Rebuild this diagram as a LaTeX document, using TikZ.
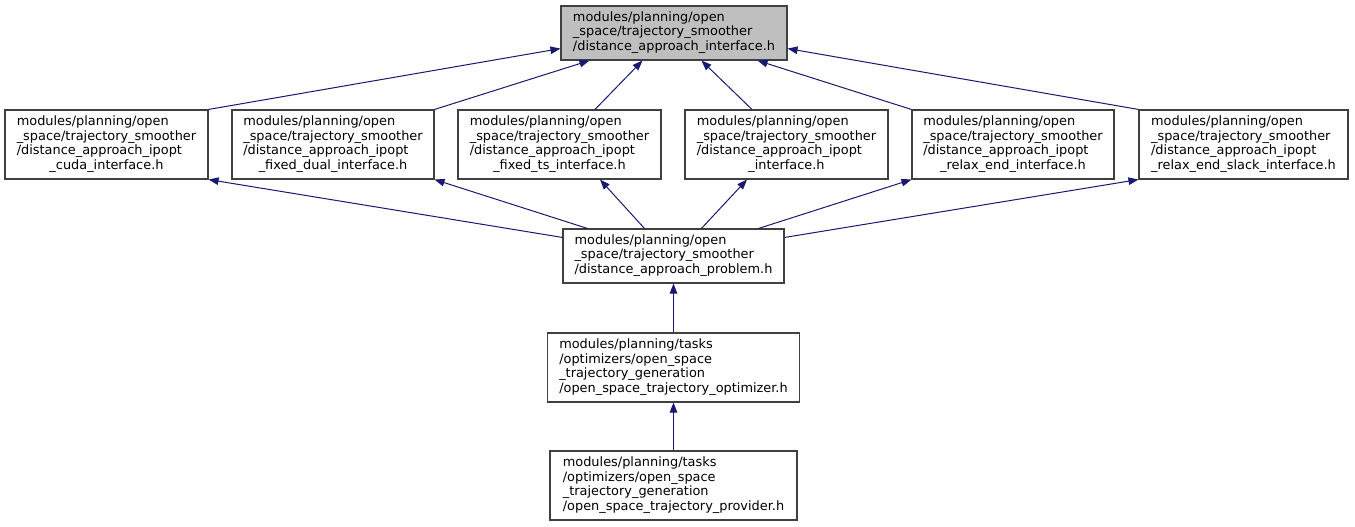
\documentclass[tikz,border=0pt]{standalone}
\usepackage{fontspec}
\setmainfont{DejaVu Sans}
\usetikzlibrary{arrows.meta}
\newcommand{\dxlines}[2]{\fontsize{12.9}{14.7}\selectfont\begin{tabular}{@{}l@{}}#1\\\multicolumn{1}{@{}c@{}}{#2}\end{tabular}}
\definecolor{edgeblue}{HTML}{191970}
\definecolor{boxgray}{HTML}{BFBFBF}
\definecolor{bordergray}{HTML}{404040}
\begin{document}
\begin{tikzpicture}[x=1pt,y=-1pt,
  box/.style={draw=bordergray,line width=1.1pt,inner sep=0pt,fill=white,minimum height=69pt},
  box3/.style={box,minimum height=54pt},
  edge/.style={draw=edgeblue,line width=1pt,{Triangle[length=10pt,width=7.5pt]}-}]
\useasboundingbox[fill=white] (0,0) rectangle (1355,527);

\node[box3,fill=boxgray,minimum width=226pt] (top) at (674,33)
  {\dxlines{modules/planning/open\\\_space/trajectory\_smoother}{/distance\_approach\_interface.h}};

\node[box,minimum width=203pt] (cuda) at (106.5,144.5)
  {\dxlines{modules/planning/open\\\_space/trajectory\_smoother\\/distance\_approach\_ipopt}{\_cuda\_interface.h}};
\node[box,minimum width=202pt] (fdual) at (333,144.5)
  {\dxlines{modules/planning/open\\\_space/trajectory\_smoother\\/distance\_approach\_ipopt}{\_fixed\_dual\_interface.h}};
\node[box,minimum width=203pt] (fts) at (559.5,144.5)
  {\dxlines{modules/planning/open\\\_space/trajectory\_smoother\\/distance\_approach\_ipopt}{\_fixed\_ts\_interface.h}};
\node[box,minimum width=203pt] (ipopt) at (786.5,144.5)
  {\dxlines{modules/planning/open\\\_space/trajectory\_smoother\\/distance\_approach\_ipopt}{\_interface.h}};
\node[box,minimum width=202pt] (rend) at (1013,144.5)
  {\dxlines{modules/planning/open\\\_space/trajectory\_smoother\\/distance\_approach\_ipopt}{\_relax\_end\_interface.h}};
\node[box,minimum width=209pt] (slack) at (1243.5,144.5)
  {\dxlines{modules/planning/open\\\_space/trajectory\_smoother\\/distance\_approach\_ipopt}{\_relax\_end\_slack\_interface.h}};

\node[box3,minimum width=221pt] (prob) at (673.5,256)
  {\dxlines{modules/planning/open\\\_space/trajectory\_smoother}{/distance\_approach\_problem.h}};
\node[box,minimum width=252pt] (opt) at (673.5,367.5)
  {\dxlines{modules/planning/tasks\\/optimizers/open\_space\\\_trajectory\_generation}{/open\_space\_trajectory\_optimizer.h}};
\node[box,minimum width=247pt] (prov) at (673.5,485.5)
  {\dxlines{modules/planning/tasks\\/optimizers/open\_space\\\_trajectory\_generation}{/open\_space\_trajectory\_provider.h}};

% edges to top
\draw[edge] ([yshift=12pt]top.south west) -- (cuda.north east);
\draw[edge] ([xshift=29pt]top.south west) -- (fdual.north east);
\draw[edge] ([xshift=82pt]top.south west) -- ([xshift=35.5pt]fts.north);
\draw[edge] ([xshift=141pt]top.south west) -- ([xshift=-34.5pt]ipopt.north);
\draw[edge] ([xshift=-30pt]top.south east) -- (rend.north west);
\draw[edge] ([yshift=12pt]top.south east) -- (slack.north west);

% edges from problem
\draw[edge] (cuda.south east) -- ([yshift=-9pt]prob.north west);
\draw[edge] (fdual.south east) -- ([xshift=25pt]prob.north west);
\draw[edge] ([xshift=40.5pt]fts.south) -- ([xshift=82pt]prob.north west);
\draw[edge] ([xshift=-39.5pt]ipopt.south) -- ([xshift=139pt]prob.north west);
\draw[edge] (rend.south west) -- ([xshift=-26pt]prob.north east);
\draw[edge] (slack.south west) -- ([yshift=-9pt]prob.north east);

\draw[edge] (prob.south) -- (opt.north);
\draw[edge] (opt.south) -- (prov.north);
\end{tikzpicture}
\end{document}
